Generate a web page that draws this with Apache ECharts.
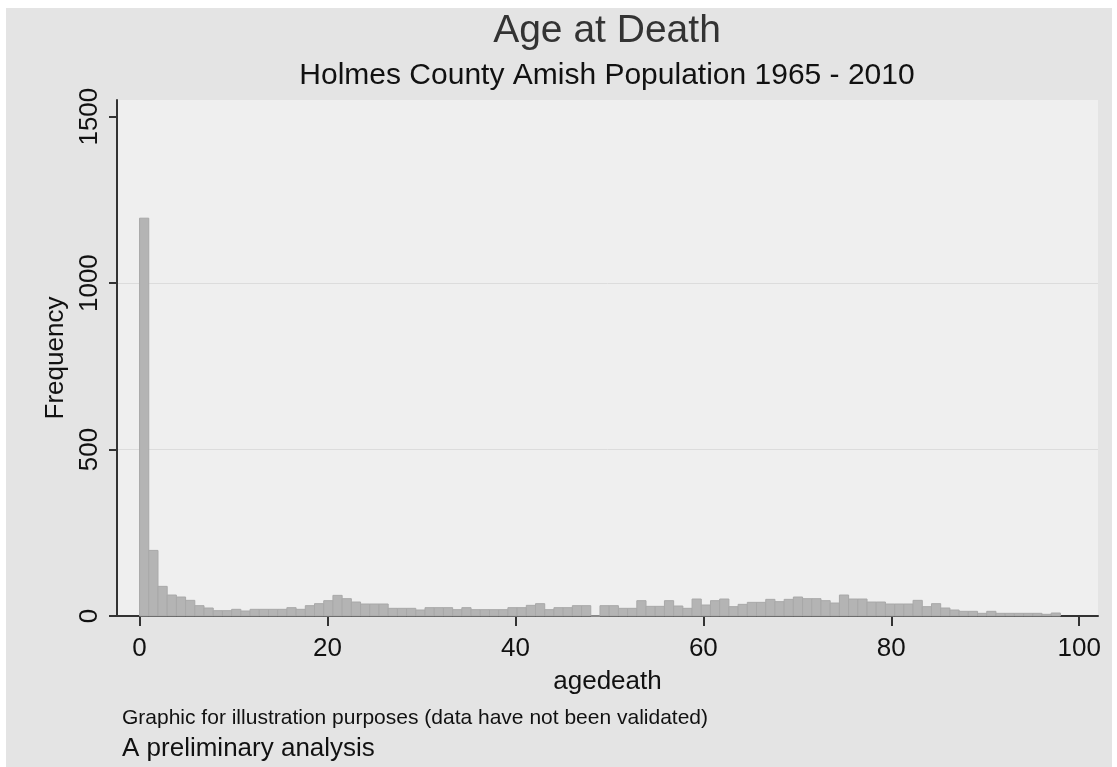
<!DOCTYPE html>
<html>
<head>
<meta charset="utf-8">
<title>Age at Death</title>
<script src="https://cdn.jsdelivr.net/npm/echarts@6/dist/echarts.min.js"></script>
<style>
  html, body { margin: 0; padding: 0; background: #ffffff; }
  #frame { position: absolute; left: 6px; top: 8px; width: 1106px; height: 759px; background: #e4e4e4; }
  #chart { position: absolute; left: 0; top: 0; width: 1117px; height: 767px; }
</style>
</head>
<body>
<div id="frame"></div>
<div id="chart"></div>
<script>
// histogram of agedeath: 100 bins, start 0, width 0.98
const binStart = 0;
const binWidth = 0.98;
const frequency = [
  1195, 197, 89, 63, 57, 47, 31, 24, 16, 16,
  20, 15, 20, 20, 20, 20, 25, 20, 31, 37,
  46, 62, 52, 42, 36, 36, 36, 23, 23, 23,
  18, 25, 25, 25, 19, 25, 19, 19, 19, 19,
  25, 25, 32, 37, 19, 25, 25, 31, 31, 0,
  31, 31, 23, 23, 46, 29, 29, 46, 30, 23,
  51, 33, 46, 51, 28, 35, 41, 41, 50, 43,
  50, 57, 52, 52, 46, 39, 63, 51, 51, 42,
  42, 36, 36, 36, 47, 28, 37, 24, 18, 14,
  14, 8, 14, 8, 8, 8, 8, 8, 5, 9
];
const xTicks = [0, 20, 40, 60, 80, 100];
const yTicks = [0, 500, 1000, 1500];

const titleText = "Age at Death";
const subtitleText = "Holmes County Amish Population 1965 - 2010";
const captionText = "Graphic for illustration purposes (data have not been validated)";
const noteText = "A preliminary analysis";

const bins = frequency.map((f, i) => [binStart + i * binWidth, binStart + (i + 1) * binWidth, f]);

const chart = echarts.init(document.getElementById("chart"));
const font = "Liberation Sans, Arial, sans-serif";

chart.setOption({
  animation: false,
  textStyle: { fontFamily: font },
  grid: {
    left: 117, right: 19, top: 100, bottom: 151,
    show: true, backgroundColor: "#efefef", borderWidth: 0
  },
  graphic: [
    { type: "text", x: 607, y: 31, style: { text: titleText, font: "39px " + font, fill: "#333333", align: "center", verticalAlign: "middle" } },
    { type: "text", x: 607, y: 76, style: { text: subtitleText, font: "30px " + font, fill: "#111111", align: "center", verticalAlign: "middle" } },
    { type: "text", x: 122, y: 718, style: { text: captionText, font: "21px " + font, fill: "#111111", align: "left", verticalAlign: "middle" } },
    { type: "text", x: 122, y: 749, style: { text: noteText, font: "26px " + font, fill: "#111111", align: "left", verticalAlign: "middle" } }
  ],
  xAxis: {
    type: "value",
    min: -2.4,
    max: 102,
    name: "agedeath",
    nameLocation: "middle",
    nameGap: 53,
    nameTextStyle: { fontSize: 26, color: "#111111" },
    axisLine: { onZero: false, lineStyle: { color: "#333333", width: 2 } },
    axisTick: { length: 10, lineStyle: { color: "#333333", width: 2 }, customValues: xTicks },
    axisLabel: { fontSize: 26, color: "#111111", margin: 20, customValues: xTicks },
    splitLine: { show: false }
  },
  yAxis: {
    type: "value",
    min: 0,
    max: 1550,
    interval: 500,
    name: "Frequency",
    nameLocation: "middle",
    nameGap: 48,
    nameRotate: 90,
    nameTextStyle: { fontSize: 26, color: "#111111" },
    axisLine: { show: true, onZero: false, lineStyle: { color: "#333333", width: 2 } },
    axisTick: { show: true, length: 8, lineStyle: { color: "#333333", width: 2 }, customValues: yTicks },
    axisLabel: {
      fontSize: 26, color: "#111111", rotate: 90, margin: 14, customValues: yTicks,
      formatter: function (v) { return String(v); }
    },
    splitLine: { show: true, lineStyle: { color: ["#efefef", "#dcdcdc", "#dcdcdc", "#efefef", "#efefef"], width: 1 } }
  },
  series: [{
    type: "custom",
    data: bins,
    encode: { x: [0, 1], y: 2 },
    renderItem: function (params, api) {
      const p0 = api.coord([api.value(0), api.value(2)]);
      const p1 = api.coord([api.value(1), 0]);
      return {
        type: "rect",
        shape: { x: p0[0], y: p0[1], width: p1[0] - p0[0], height: p1[1] - p0[1] },
        style: { fill: "#b4b4b4", stroke: "#a8a8a8", lineWidth: 1 }
      };
    }
  }]
});
</script>
</body>
</html>
